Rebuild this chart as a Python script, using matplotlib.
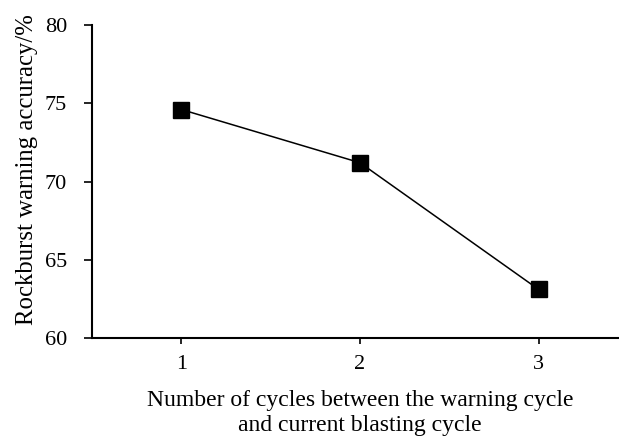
import matplotlib
matplotlib.use("Agg")
import matplotlib.pyplot as plt

cycles = [1, 2, 3]
accuracy = [74.6, 71.2, 63.1]
y_ticks = [60, 65, 70, 75, 80]

plt.rcParams["font.family"] = ["Liberation Serif", "DejaVu Serif"]

W, H = 619, 436
fig = plt.figure(figsize=(W / 100, H / 100), dpi=100)
# axes box in pixels: left 92, right 628, top 25, bottom 338
ax = fig.add_axes([92 / W, 1 - 338 / H, (628 - 92) / W, (338 - 25) / H])

ax.plot(cycles, accuracy, color="black", linewidth=1.1,
        marker="s", markersize=11.5, markerfacecolor="black", markeredgecolor="black")

ax.set_xlim(0.5, 3.5)
ax.set_ylim(60, 80)
ax.set_xticks(cycles)
ax.set_yticks(y_ticks)

for side in ("top", "right"):
    ax.spines[side].set_visible(False)
for side in ("left", "bottom"):
    ax.spines[side].set_linewidth(1.5)

ax.tick_params(axis="both", labelsize=16, width=1.2, direction="out")
ax.tick_params(axis="y", length=6, pad=12)
ax.tick_params(axis="x", length=4, pad=8)

ax.set_ylabel("Rockburst warning accuracy/%", fontsize=17.8)
ax.yaxis.set_label_coords(-0.101, 0.537)
# kept just inside the bottom edge so the second line is not clipped
ax.set_xlabel("Number of cycles between the warning cycle\nand current blasting cycle",
              fontsize=17, labelpad=11.5, linespacing=1.3)

fig.savefig("out.png", dpi=100)
